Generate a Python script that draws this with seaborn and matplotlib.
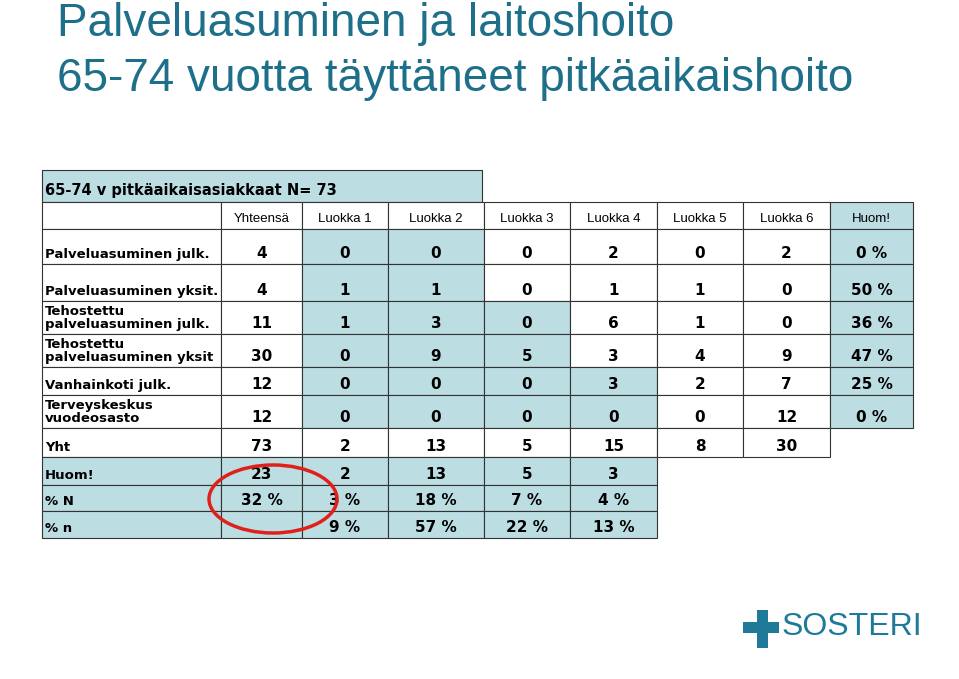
import matplotlib
matplotlib.use('Agg')
import matplotlib.pyplot as plt
from matplotlib.patches import Rectangle, Ellipse
import seaborn as sns

sns.set_theme(style='white')

# ── Data ──────────────────────────────────────────────────────────────────────
title_lines = ['Palveluasuminen ja laitoshoito', '65-74 vuotta täyttäneet pitkäaikaishoito']
table_title = '65-74 v pitkäaikaisasiakkaat N= 73'
columns = ['Yhteensä', 'Luokka 1', 'Luokka 2', 'Luokka 3', 'Luokka 4', 'Luokka 5', 'Luokka 6', 'Huom!']
row_labels = ['Palveluasuminen julk.', 'Palveluasuminen yksit.',
              'Tehostettu\npalveluasuminen julk.', 'Tehostettu\npalveluasuminen yksit',
              'Vanhainkoti julk.', 'Terveyskeskus\nvuodeosasto',
              'Yht', 'Huom!', '% N', '% n']
yhteensa = ['4', '4', '11', '30', '12', '12', '73', '23', '32 %', '']
luokka1 = ['0', '1', '1', '0', '0', '0', '2', '2', '3 %', '9 %']
luokka2 = ['0', '1', '3', '9', '0', '0', '13', '13', '18 %', '57 %']
luokka3 = ['0', '0', '0', '5', '0', '0', '5', '5', '7 %', '22 %']
luokka4 = ['2', '1', '6', '3', '3', '0', '15', '3', '4 %', '13 %']
luokka5 = ['0', '1', '1', '4', '2', '0', '8', None, None, None]
luokka6 = ['2', '0', '0', '9', '7', '12', '30', None, None, None]
huom = ['0 %', '50 %', '36 %', '47 %', '25 %', '0 %', None, None, None, None]
values = [yhteensa, luokka1, luokka2, luokka3, luokka4, luokka5, luokka6, huom]

# ── Layout (pixels) ───────────────────────────────────────────────────────────
W, H = 959, 679
col_x = [42, 221, 302, 388, 484, 570, 657, 743, 830, 913]
row_y = [229, 264, 301, 334, 367, 395, 428, 457, 485, 511, 538]
teal = '#bcdde2'
title_col = '#1d6f8a'
ink = 'black'

# shaded cells (row, col) where col 0 is the label column
shaded = set()
for r in range(6):
    shaded.add((r, 8))
for r, last in [(0, 3), (1, 3), (2, 4), (3, 4), (4, 5), (5, 5)]:
    for c in range(2, last + 1):
        shaded.add((r, c))
for r in (7, 8, 9):
    for c in range(0, 6):
        shaded.add((r, c))

fig = plt.figure(figsize=(W / 100, H / 100), dpi=100)
ax = fig.add_axes([0, 0, 1, 1])
ax.set_xlim(0, W)
ax.set_ylim(H, 0)
ax.axis('off')

for i, line in enumerate(title_lines):
    ax.text(57, 24 + i * 55, line, fontsize=33, color=title_col,
            family='Liberation Sans', va='center', ha='left')

# table title band
ax.add_patch(Rectangle((42, 170), 482 - 42, 32, fc=teal, ec='#333', lw=0.8))
ax.text(45, 198, table_title, fontsize=10.5, weight='bold', family='DejaVu Sans',
        va='bottom', color=ink)

# header row
ax.add_patch(Rectangle((42, 202), col_x[1] - 42, 27, fc='white', ec='#333', lw=0.8))
for c, name in enumerate(columns):
    x0, x1 = col_x[c + 1], col_x[c + 2]
    fc = teal if name == 'Huom!' else 'white'
    ax.add_patch(Rectangle((x0, 202), x1 - x0, 27, fc=fc, ec='#333', lw=0.8))
    ax.text((x0 + x1) / 2, 225, name, fontsize=9.5, family='Liberation Sans',
            ha='center', va='bottom', color=ink)

for r, label in enumerate(row_labels):
    y0, y1 = row_y[r], row_y[r + 1]
    ax.add_patch(Rectangle((col_x[0], y0), col_x[1] - col_x[0], y1 - y0,
                           fc=teal if (r, 0) in shaded else 'white', ec='#333', lw=0.8))
    ax.text(col_x[0] + 3, y1 - 3, label, fontsize=9.5, weight='bold',
            family='DejaVu Sans', va='bottom', linespacing=1.0, color=ink)
    for c, col in enumerate(values):
        v = col[r]
        if v is None:
            continue
        x0, x1 = col_x[c + 1], col_x[c + 2]
        ax.add_patch(Rectangle((x0, y0), x1 - x0, y1 - y0,
                               fc=teal if (r, c + 1) in shaded else 'white', ec='#333', lw=0.8))
        ax.text((x0 + x1) / 2, y1 - 3, v, fontsize=11, weight='bold',
                family='DejaVu Sans', ha='center', va='bottom', color=ink)

# red ellipse around 23 / 32 %
ax.add_patch(Ellipse((273, 499), 128, 68, fill=False, ec='#e0201b', lw=2.5, zorder=5))

# logo
logo = '#1f7a9a'
ax.add_patch(Rectangle((757, 610), 11, 38, fc=logo, lw=0))
ax.add_patch(Rectangle((743, 622), 36, 11, fc=logo, lw=0))
ax.text(782, 627, 'SOSTERI', fontsize=23, color=logo, family='Liberation Sans',
        va='center', ha='left')

fig.savefig('out.png', dpi=100)
